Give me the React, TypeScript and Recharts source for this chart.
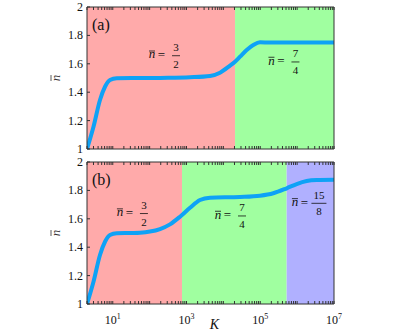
import { LineChart, Line, XAxis, YAxis, ReferenceArea, ReferenceDot } from "recharts";

// K values and mean occupation
const A_K = [2, 3, 4.5, 6.2, 8.4, 12.8, 32, 100, 316, 1245, 4335, 8090, 15100, 20650, 28250, 42850, 64700, 98400, 183600, 1e6, 1e7];
const A_N = [1, 1.157, 1.345, 1.44, 1.486, 1.498, 1.5, 1.5, 1.501, 1.505, 1.514, 1.537, 1.587, 1.615, 1.65, 1.697, 1.732, 1.751, 1.75, 1.75, 1.75];

const B_K = [2, 3, 4.5, 6.2, 8.4, 12.8, 32, 55, 102, 191, 356, 667, 1245, 2320, 4335, 28250, 98400, 226000, 521000, 973000, 1815000, 3400000, 1e7];
const B_N = [1, 1.157, 1.345, 1.44, 1.486, 1.498, 1.5, 1.502, 1.51, 1.528, 1.561, 1.615, 1.678, 1.732, 1.749, 1.754, 1.763, 1.78, 1.815, 1.845, 1.866, 1.873, 1.875];

// shaded regime boundaries
const A_BOUNDS = [2, 20700, 1e7];
const B_BOUNDS = [2, 755, 520000, 1e7];
const REGION_COLORS = ["#FFAAAA", "#A0FFA0", "#B0B0FF"];

// plateau annotations
const A_NOTES = [
  { k: 519, n: 1.657, num: "3", den: "2" },
  { k: 900000, n: 1.613, num: "7", den: "4" },
];
const B_NOTES = [
  { k: 70, n: 1.637, num: "3", den: "2" },
  { k: 32000, n: 1.62, num: "7", den: "4" },
  { k: 3900000, n: 1.709, num: "15", den: "8" },
];

const X_MAJOR = [1e1, 1e2, 1e3, 1e4, 1e5, 1e6, 1e7];
const X_LABELED = [1e1, 1e3, 1e5, 1e7];
const Y_TICKS = [1, 1.2, 1.4, 1.6, 1.8, 2];
const DOMAIN_X = [2, 1e7];

const X_TICKS = (() => {
  const out: number[] = [];
  for (const m of [1, ...X_MAJOR]) {
    for (let d = 1; d < 10; d++) {
      const v = m * d;
      if (v >= DOMAIN_X[0] && v <= DOMAIN_X[1]) out.push(v);
    }
  }
  return out;
})();

const FONT = "'Liberation Serif', 'DejaVu Serif', serif";
const FRAME = "#333";
const LINE = "#0EA2F6";
const TICK = 3;

function BottomTick(props: any) {
  const { x, y, payload, showLabel } = props;
  const v = payload.value;
  const exp = Math.round(Math.log10(v));
  const labeled = showLabel && X_LABELED.some((t) => Math.abs(t - v) < 1e-6 * t);
  return (
    <g>
      <line x1={x} x2={x} y1={y} y2={y - TICK} stroke={FRAME} />
      {labeled && (
        <text x={x} y={y + 20} textAnchor="middle" fontSize={12} fontFamily={FONT} fill="#111">
          10
          <tspan dy={-5} fontSize={8}>{exp}</tspan>
        </text>
      )}
    </g>
  );
}

function TopTick(props: any) {
  const { x, y } = props;
  return <line x1={x} x2={x} y1={y} y2={y + TICK} stroke={FRAME} />;
}

function LeftTick(props: any) {
  const { x, y, payload } = props;
  return (
    <g>
      <line x1={x} x2={x + TICK} y1={y} y2={y} stroke={FRAME} />
      <text x={x - 4} y={y + 4} textAnchor="end" fontSize={12} fontFamily={FONT} fill="#111">
        {String(payload.value)}
      </text>
    </g>
  );
}

function RightTick(props: any) {
  const { x, y } = props;
  return <line x1={x} x2={x - TICK} y1={y} y2={y} stroke={FRAME} />;
}

function Fraction(props: any) {
  const { viewBox, num, den } = props;
  const ax = viewBox.x + (viewBox.width || 0) / 2;
  const ay = viewBox.y + (viewBox.height || 0) / 2;
  const w = num.length > 1 ? 15 : 8;
  return (
    <g fontFamily={FONT} fill="#111">
      <text x={ax - 24} y={ay + 2.6} textAnchor="middle" fontSize={13} fontStyle="italic">n</text>
      <line x1={ax - 27} x2={ax - 21} y1={ay - 4.7} y2={ay - 4.7} stroke="#111" strokeWidth={0.8} />
      <text x={ax - 14.5} y={ay + 3.5} textAnchor="middle" fontSize={13}>=</text>
      <text x={ax} y={ay - 4.5} textAnchor="middle" fontSize={11}>{num}</text>
      <line x1={ax - w / 2} x2={ax + w / 2} y1={ay} y2={ay} stroke="#111" strokeWidth={0.8} />
      <text x={ax} y={ay + 12} textAnchor="middle" fontSize={11}>{den}</text>
    </g>
  );
}

function YLabel(props: any) {
  const { viewBox } = props;
  const cx = viewBox.x - 30;
  const cy = viewBox.y + viewBox.height / 2;
  return (
    <g transform={`translate(${cx},${cy}) rotate(-90)`} fontFamily={FONT} fill="#333">
      <text x={0} y={4} textAnchor="middle" fontSize={13} fontStyle="italic">n</text>
      <line x1={-3} x2={3} y1={-5} y2={-5} stroke="#333" strokeWidth={0.8} />
    </g>
  );
}

function KLabel(props: any) {
  const { viewBox } = props;
  return (
    <text
      x={viewBox.x + viewBox.width / 2 + 4}
      y={viewBox.y + 24.5}
      textAnchor="middle"
      fontSize={14}
      fontStyle="italic"
      fontFamily={FONT}
      fill="#111"
    >
      K
    </text>
  );
}

type PanelProps = {
  ks: number[];
  ns: number[];
  bounds: number[];
  notes: { k: number; n: number; num: string; den: string }[];
  height: number;
  bottom: number;
  showX: boolean;
};

function Panel({ ks, ns, bounds, notes, height, bottom, showX }: PanelProps) {
  const data = ks.map((k, i) => ({ k, n: ns[i] }));
  return (
    <LineChart width={415} height={height} data={data} margin={{ top: 6, right: 80, left: 86, bottom }}>
      {bounds.slice(0, -1).map((b, i) => (
        <ReferenceArea
          key={i}
          xAxisId="b"
          yAxisId="l"
          x1={b}
          x2={bounds[i + 1]}
          fill={REGION_COLORS[i]}
          fillOpacity={1}
          stroke="none"
        />
      ))}
      <XAxis
        xAxisId="b"
        dataKey="k"
        type="number"
        scale="log"
        domain={DOMAIN_X}
        allowDataOverflow
        ticks={X_TICKS}
        interval={0}
        height={1}
        tickSize={0}
        tickMargin={0}
        tickLine={false}
        axisLine={{ stroke: FRAME }}
        tick={(p: any) => <BottomTick {...p} showLabel={showX} />}
        label={showX ? { content: (p: any) => <KLabel {...p} /> } : undefined}
      />
      <XAxis
        xAxisId="t"
        orientation="top"
        dataKey="k"
        type="number"
        scale="log"
        domain={DOMAIN_X}
        allowDataOverflow
        ticks={X_TICKS}
        interval={0}
        height={1}
        tickSize={0}
        tickMargin={0}
        tickLine={false}
        axisLine={{ stroke: FRAME }}
        tick={(p: any) => <TopTick {...p} />}
      />
      <YAxis
        yAxisId="l"
        type="number"
        domain={[1, 2]}
        ticks={Y_TICKS}
        interval={0}
        width={1}
        tickSize={0}
        tickMargin={0}
        tickLine={false}
        axisLine={{ stroke: FRAME }}
        tick={(p: any) => <LeftTick {...p} />}
        label={{ content: (p: any) => <YLabel {...p} /> }}
      />
      <YAxis
        yAxisId="r"
        orientation="right"
        type="number"
        domain={[1, 2]}
        ticks={Y_TICKS}
        interval={0}
        width={1}
        tickSize={0}
        tickMargin={0}
        tickLine={false}
        axisLine={{ stroke: FRAME }}
        tick={(p: any) => <RightTick {...p} />}
      />
      <Line
        xAxisId="b"
        yAxisId="l"
        type="monotone"
        dataKey="n"
        stroke={LINE}
        strokeWidth={4}
        dot={false}
        isAnimationActive={false}
      />
      {notes.map((nt, i) => (
        <ReferenceDot
          key={i}
          xAxisId="b"
          yAxisId="l"
          x={nt.k}
          y={nt.n}
          r={1}
          fill="none"
          stroke="none"
          label={{ content: (p: any) => <Fraction {...p} num={nt.num} den={nt.den} /> }}
        />
      ))}
    </LineChart>
  );
}

const tagStyle: React.CSSProperties = {
  position: "absolute",
  left: 92,
  fontFamily: FONT,
  fontSize: 16,
  color: "#111",
  lineHeight: "16px",
};

export default function App() {
  return (
    <div style={{ position: "absolute", left: 0, top: 0, width: 415, height: 332, background: "#fff" }}>
      <div style={{ position: "absolute", left: 0, top: 0 }}>
        <Panel ks={A_K} ns={A_N} bounds={A_BOUNDS} notes={A_NOTES} height={155} bottom={5} showX={false} />
      </div>
      <div style={{ position: "absolute", left: 0, top: 155 }}>
        <Panel ks={B_K} ns={B_N} bounds={B_BOUNDS} notes={B_NOTES} height={177} bottom={27} showX={true} />
      </div>
      <div style={{ ...tagStyle, top: 17 }}>(a)</div>
      <div style={{ ...tagStyle, top: 172 }}>(b)</div>
    </div>
  );
}
